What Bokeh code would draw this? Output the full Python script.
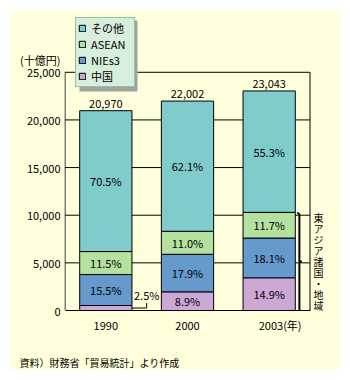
from bokeh.plotting import figure
from bokeh.models import (Range1d, Label, Legend, LegendItem, BoxAnnotation, Title,
                          NumeralTickFormatter, FixedTicker, ColumnDataSource)
from bokeh.core.properties import value
from bokeh.embed import file_html
from bokeh.resources import INLINE

# ---- data ----
years = ["1990", "2000", "2003"]
totals = [20970, 22002, 23043]
pct_china = [2.5, 8.9, 14.9]
pct_nies = [15.5, 17.9, 18.1]
pct_asean = [11.5, 11.0, 11.7]
pct_other = [70.5, 62.1, 55.3]
series = ["中国", "NIEs3", "ASEAN", "その他"]
colors = ["#CCA8D6", "#6699CC", "#B4E0A0", "#80CCCC"]
y_ticks = [0, 5000, 10000, 15000, 20000, 25000]
y_max = 25000
region_label = "東アジア諸国・地域"
unit_label = "(十億円)"
year_suffix = "(年)"
source_note = "資料）財務省「貿易統計」より作成"

FONT = "Noto Sans CJK JP"
BG = "#FFFFDC"

# ---- geometry of the drawing area (pixels) ----
FRAME_W, FRAME_H = 276, 301       # frame reaches to top / right of the pale panel
AXIS_H = 239                      # pixel height of 0..25000
AXIS_W = 245                      # pixel width of the three categories
PX = y_max / AXIS_H               # data units per pixel (y)
CAT = AXIS_W / len(years)         # pixels per category
x0 = -0.5 / CAT

pcts = [pct_china, pct_nies, pct_asean, pct_other]
vals = [[t * p / 100.0 for t, p in zip(totals, pc)] for pc in pcts]
xc = [i + 0.5 for i in range(len(years))]
n = len(years)

data = {"x": xc}
for name, v in zip(series, vals):
    data[name] = v
src = ColumnDataSource(data)

p = figure(x_range=Range1d(x0, x0 + FRAME_W / CAT), y_range=Range1d(0, FRAME_H * PX),
           width=330, height=360, output_backend="svg", toolbar_location=None,
           min_border_left=54, min_border_right=0, min_border_top=0, min_border_bottom=59,
           background_fill_color=BG, border_fill_color=BG, margin=10)
p.outline_line_color = None
p.xgrid.grid_line_color = None
p.ygrid.grid_line_color = None

# y axis (no line; unit label as an extra tick label above 25,000)
unit_tick = round(y_max + 12 * PX)
p.yaxis.ticker = FixedTicker(ticks=y_ticks + [unit_tick])
p.yaxis.formatter = NumeralTickFormatter(format="0,0")
p.yaxis.major_label_overrides = {unit_tick: unit_label}
p.yaxis.axis_line_color = None
p.yaxis.major_label_standoff = 4

# x axis
p.xaxis.ticker = FixedTicker(ticks=xc)
labels = list(years)
labels[-1] = "\u3000\u3000" + labels[-1] + year_suffix
p.xaxis.major_label_overrides = {c: l for c, l in zip(xc, labels)}
p.xaxis.bounds = (0, n)
p.xaxis.axis_line_color = "black"
p.xaxis.major_label_standoff = 6
# blank spacer line so that the source note sits lower
p.xaxis.axis_label = "\u3000"
p.xaxis.axis_label_standoff = 0
p.xaxis.axis_label_text_font = FONT
p.xaxis.axis_label_text_font_size = "9px"

for ax in (p.xaxis[0], p.yaxis[0]):
    ax.major_tick_out = 0
    ax.major_tick_in = 0
    ax.minor_tick_out = 0
    ax.minor_tick_in = 0
    ax.major_label_text_font = FONT
    ax.major_label_text_font_size = "11px"
    ax.major_label_text_color = "black"

# grid lines + plot box (drawn first, behind bars)
gy = [t for t in y_ticks if t > 0]
p.segment(x0=[0] * len(gy), y0=gy, x1=[n] * len(gy), y1=gy, line_color="black", line_width=1)
p.segment(x0=[0, n], y0=[0, 0], x1=[0, n], y1=[y_max, y_max], line_color="black", line_width=1)

# stacked bars
rs = p.vbar_stack(series, x="x", width=0.64, color=colors, line_color="black",
                  line_width=1, source=src)

# totals above bars
p.text(x=xc, y=totals, text=[f"{t:,}" for t in totals], text_align="center",
       text_baseline="bottom", y_offset=-3, text_font=value(FONT),
       text_font_size="11px", text_color="black")

# percent labels inside segments
lx, ly, lt = [], [], []
for i in range(n):
    base = 0.0
    for k in range(len(series)):
        v = vals[k][i]
        if not (k == 0 and i == 0):
            lx.append(xc[i])
            ly.append(base + v / 2)
            lt.append(f"{pcts[k][i]:.1f}%")
        base += v
p.text(x=lx, y=ly, text=lt, text_align="center", text_baseline="middle",
       text_font=value(FONT), text_font_size="11px", text_color="black")

# 1990 China label with leader line
cy = vals[0][0] / 2
bar_right = xc[0] + 0.32
lead_x = xc[0] + 0.5
p.line(x=[bar_right, lead_x, lead_x], y=[cy, cy, cy + 5 * PX], line_color="black", line_width=1)
p.text(x=[lead_x], y=[cy + 5 * PX], text=[f"{pct_china[0]:.1f}%"], text_align="center",
       text_baseline="bottom", text_font=value(FONT), text_font_size="11px", text_color="black")

# East Asia bracket for 2003
ea_top = vals[0][2] + vals[1][2] + vals[2][2]
xb = xc[2] + 0.32 + 0.05
p.line(x=[xb - 0.025, xb, xb], y=[ea_top, ea_top - 2 * PX, 0], line_color="black", line_width=2)
p.segment(x0=[xb], y0=[ea_top / 2], x1=[xb + 0.03], y1=[ea_top / 2], line_color="black", line_width=2)

# vertical region label
for i, ch in enumerate(region_label):
    p.add_layout(Label(x=254, y=AXIS_H - (218 - 72 + i * 11), x_units="screen", y_units="screen",
                       text=ch, text_align="center", text_baseline="middle",
                       text_font=FONT, text_font_size="10px", text_color="black"))

# source note below
p.add_layout(Title(text=source_note, align="left", offset=-45, standoff=2,
                   text_font=FONT, text_font_size="10px", text_font_style="normal",
                   text_color="black"), "below")

# legend shadow
shadow = BoxAnnotation(left=15, right=73, top=290, bottom=219, left_units="screen",
                       right_units="screen", top_units="screen", bottom_units="screen",
                       fill_color="#A0A0A0", fill_alpha=1.0, line_color=None, level="guide")
p.add_layout(shadow)

items = [LegendItem(label=series[k], renderers=[rs[k]]) for k in reversed(range(len(series)))]
legend = Legend(items=items, location=(11, 223), orientation="vertical",
                background_fill_color="#D8EEDD", background_fill_alpha=1.0,
                border_line_color="#3DA35D", border_line_width=1.5,
                padding=2, margin=0, spacing=0, label_height=14, glyph_height=8,
                glyph_width=8, label_standoff=5, label_width=41, label_text_font=FONT,
                label_text_font_size="11px", label_text_color="black")
p.add_layout(legend, "center")

open("out.html", "w").write(file_html(p, INLINE))
